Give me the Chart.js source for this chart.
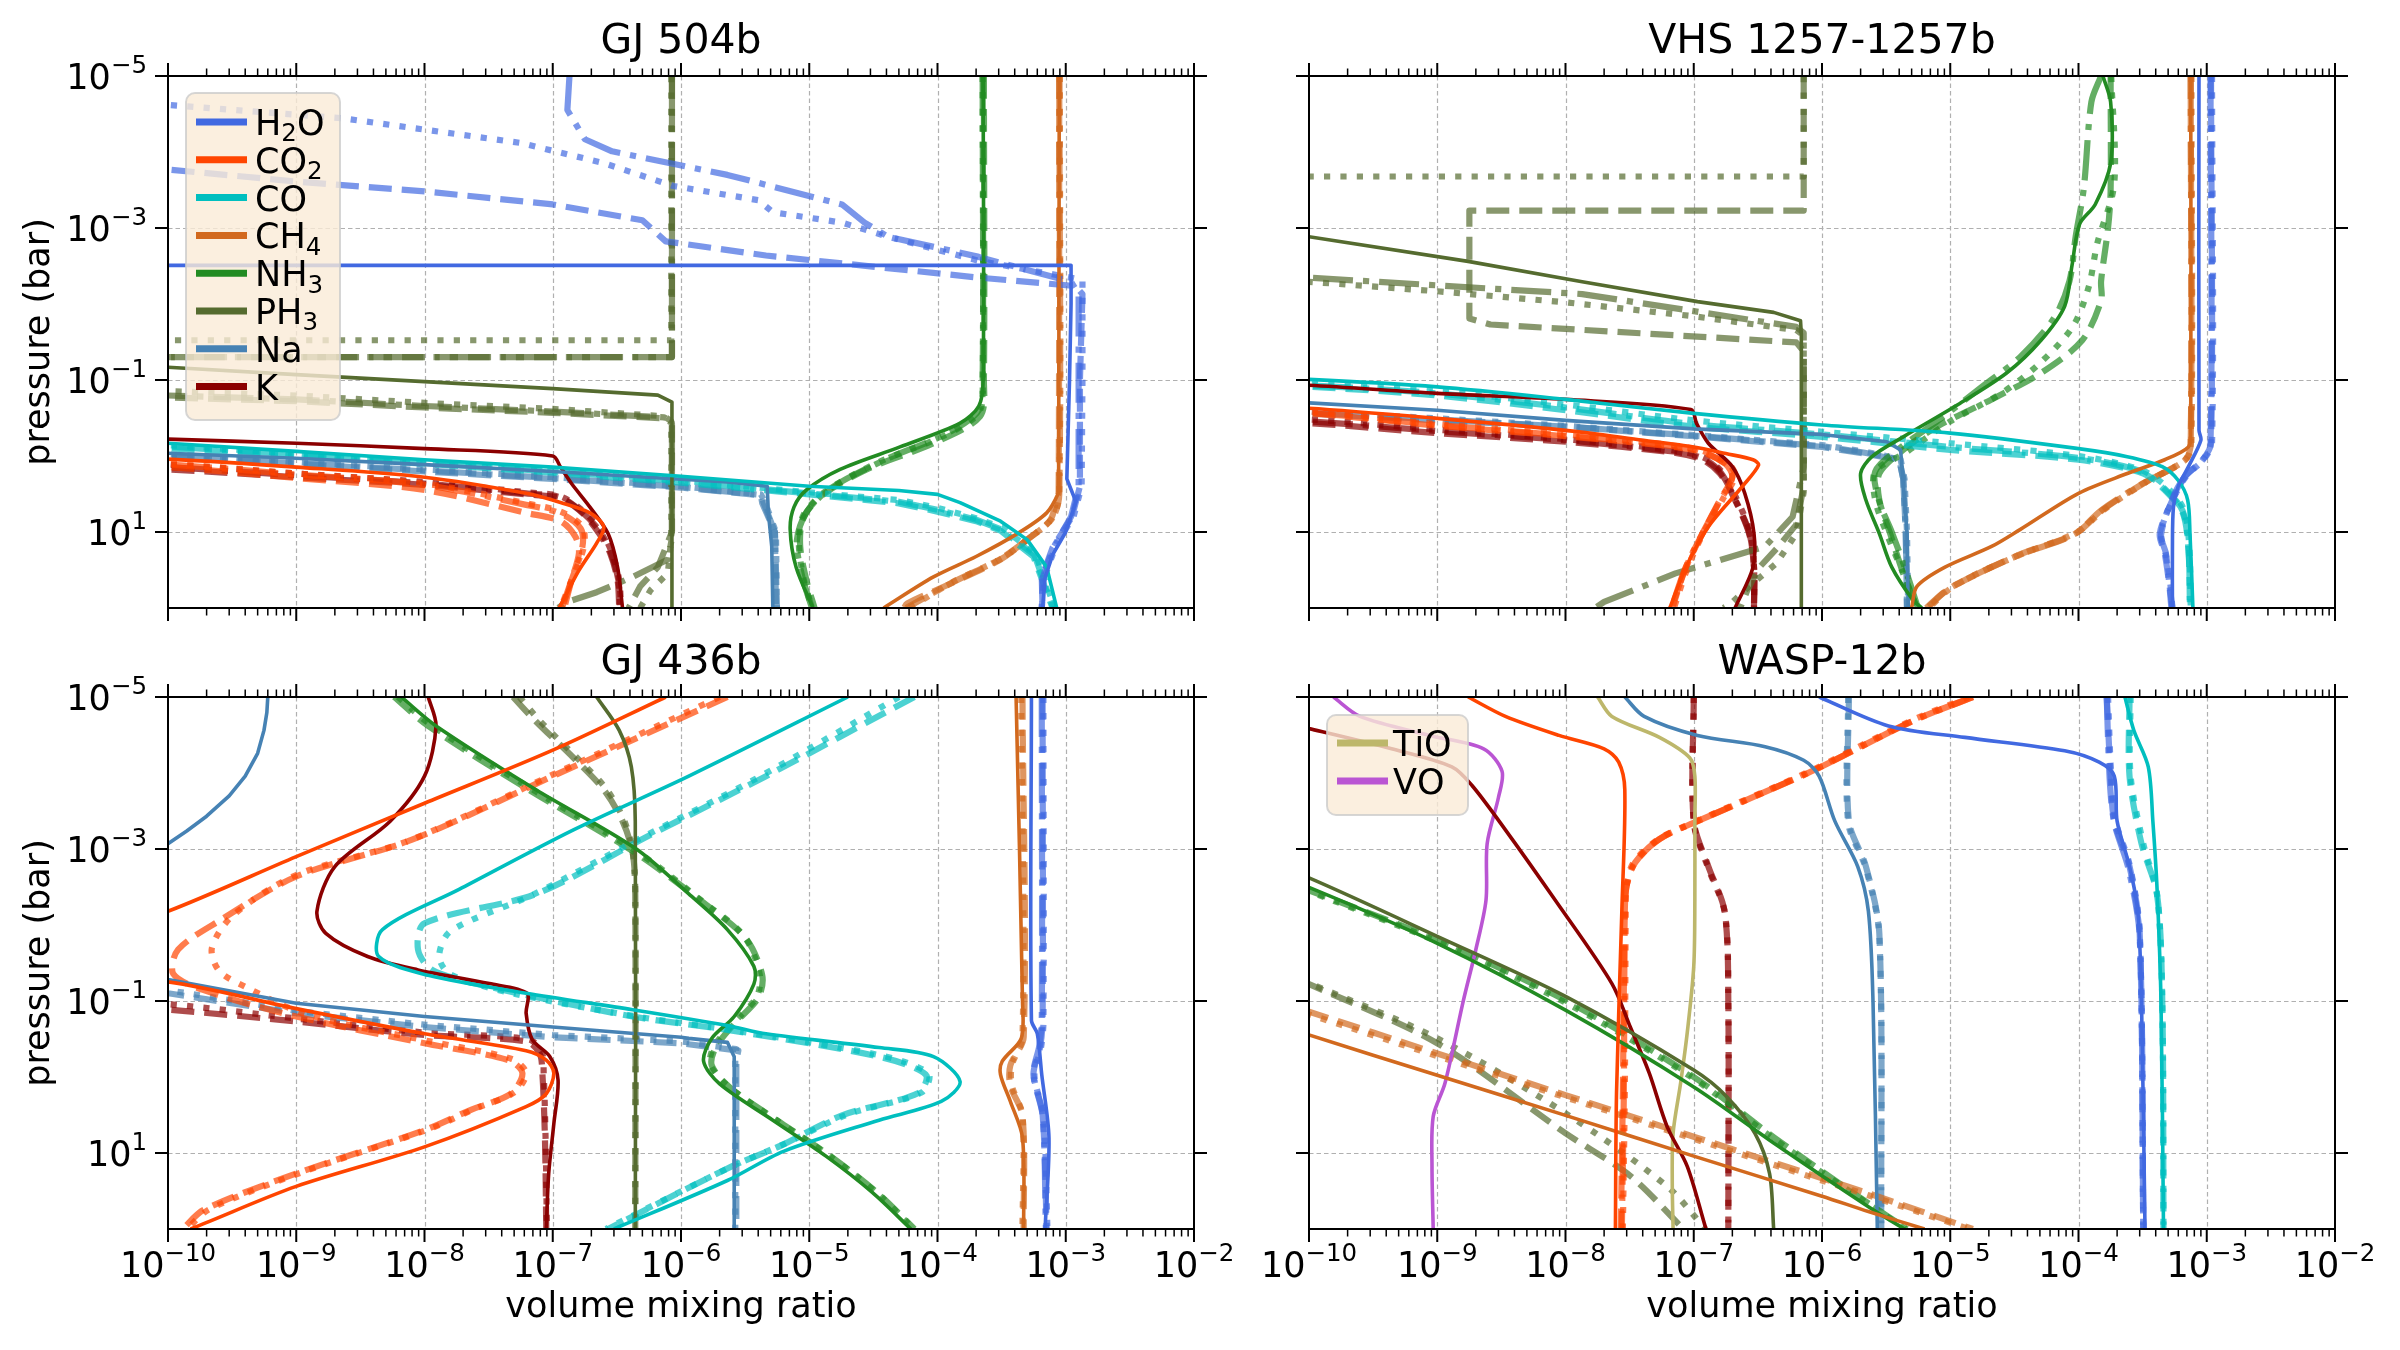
<!DOCTYPE html>
<html lang="en">
<head>
<meta charset="UTF-8">
<title>Volume mixing ratio profiles</title>
<script src="https://cdn.jsdelivr.net/npm/chart.js"></script>
<style>
  html, body { margin: 0; padding: 0; background: #fff; }
  #fig { position: relative; width: 2400px; height: 1350px; background: #fff; }
  #fig canvas { position: absolute; }
</style>
</head>
<body>
<div id="fig">
  <canvas id="c0" width="1245" height="628" style="left:0;top:0"></canvas>
  <canvas id="c1" width="1155" height="628" style="left:1245px;top:0"></canvas>
  <canvas id="c2" width="1245" height="722" style="left:0;top:628px"></canvas>
  <canvas id="c3" width="1155" height="722" style="left:1245px;top:628px"></canvas>
</div>
<script>
// axis ticks
const X_DECADES = [1e-10, 1e-9, 1e-8, 1e-7, 1e-6, 1e-5, 1e-4, 1e-3, 1e-2];
const X_EXPONENTS = [-10, -9, -8, -7, -6, -5, -4, -3, -2];
const Y_DECADES = [1e-5, 1e-3, 1e-1, 1e1];
const Y_EXPONENTS = [-5, -3, -1, 1];
const MINOR_STEPS = [2, 3, 4, 5, 6, 7, 8, 9];

// each species: [solid, dashed, dotted, dash-dot] profiles, points are [vmr, pressure in bar]

// ---- GJ 504b
const gj504_H2O = [
  [[1e-12,3.1e-3],[1.1e-3,3.1e-3],[1.1e-3,1e-2],[1.07e-3,0.1],[1.02e-3,2.0],[1.2e-3,4.0],[1.0e-3,10],[7.9e-4,20],[6.9e-4,40],[6.6e-4,100]],
  [[1e-11,1.4e-4],[1e-10,1.7e-4],[1e-9,2.45e-4],[1e-8,3.3e-4],[1e-7,4.9e-4],[5e-7,7.9e-4],[7.6e-7,1.5e-3],[4.6e-6,2.3e-3],[2.1e-4,4.5e-3],[1.19e-3,5.8e-3],[1.35e-3,7.4e-3],[1.29e-3,0.1],[1.29e-3,2.5],[1.12e-3,6.3],[7.9e-4,16],[6.5e-4,40],[6.6e-4,100]],
  [[1e-11,2.1e-5],[1e-10,2.4e-5],[2.3e-9,3.6e-5],[5.6e-8,7.6e-5],[2.5e-7,1.4e-4],[8.7e-7,2.8e-4],[4e-6,4.3e-4],[5.2e-6,6.2e-4],[1.8e-5,8.5e-4],[4.1e-5,1.3e-3],[2.1e-4,2.7e-3],[1.35e-3,4.8e-3],[1.35e-3,0.1],[1.33e-3,2.5],[1.15e-3,6.3],[8.5e-4,14],[6.8e-4,40],[6.5e-4,100]],
  [[1.35e-7,1e-5],[1.3e-7,2.8e-5],[1.78e-7,6.8e-5],[2.9e-7,9.8e-5],[2.3e-6,2.0e-4],[1.8e-5,4.9e-4],[2.7e-5,8.5e-4],[4.1e-5,1.3e-3],[2.1e-4,2.4e-3],[1.1e-3,5.1e-3],[1.26e-3,7.4e-3],[1.26e-3,0.1],[1.26e-3,2.5],[1.1e-3,6.3],[8e-4,16],[6.6e-4,40],[6.5e-4,100]]
];
const gj504_CO2 = [
  [[1e-11,0.95],[1e-10,1.1],[1e-9,1.4],[1e-8,1.9],[6.2e-8,3.1],[1.15e-7,4.1],[1.95e-7,5.6],[2.5e-7,8.5],[2.2e-7,14],[1.6e-7,32],[1.12e-7,100]],
  [[1e-11,1.2],[1e-10,1.4],[1e-9,1.95],[1e-8,2.8],[6.2e-8,5.6],[1.15e-7,7.2],[1.5e-7,11.5],[1.6e-7,19],[1.4e-7,43],[1.23e-7,100]],
  [[1e-11,1.1],[1e-10,1.26],[1e-9,1.7],[1e-8,2.3],[6.2e-8,4.2],[1.15e-7,5.4],[1.7e-7,8.5],[1.75e-7,15.5],[1.4e-7,43],[1.15e-7,100]],
  [[1e-11,1.15],[1e-10,1.3],[1e-9,1.75],[1e-8,2.4],[6.2e-8,4.4],[1.15e-7,5.7],[1.65e-7,9],[1.7e-7,16],[1.4e-7,43],[1.18e-7,100]]
];
const gj504_CO = [
  [[1e-11,0.6],[1e-10,0.68],[1e-9,0.87],[1e-8,1.12],[1e-7,1.4],[1e-6,1.85],[1e-5,2.5],[5e-5,2.85],[1e-4,3.2],[1.5e-4,4.1],[2.2e-4,5.5],[3.1e-4,7.2],[5e-4,12.6],[7.1e-4,29],[8.5e-4,100]],
  [[1e-11,0.7],[1e-10,0.79],[1e-9,1.0],[1e-8,1.26],[1e-7,1.66],[1e-6,2.24],[1e-5,3.2],[5e-5,4.2],[1e-4,5.4],[2e-4,7.2],[3.1e-4,9.6],[5.6e-4,21],[7.9e-4,100]],
  [[1e-11,0.64],[1e-10,0.72],[1e-9,0.93],[1e-8,1.2],[1e-7,1.55],[1e-6,2.1],[1e-5,3.0],[5e-5,3.8],[1e-4,4.8],[2e-4,6.6],[3.2e-4,8.8],[5.8e-4,19],[8.2e-4,100]],
  [[1e-11,0.66],[1e-10,0.75],[1e-9,0.96],[1e-8,1.23],[1e-7,1.6],[1e-6,2.15],[1e-5,3.1],[5e-5,4.0],[1e-4,5.1],[2e-4,6.9],[3.1e-4,9.2],[5.7e-4,20],[8e-4,100]]
];
const gj504_CH4 = [
  [[8.9e-4,1e-5],[8.8e-4,2.5],[8.75e-4,3.1],[7.1e-4,5.6],[4.2e-4,10.5],[2.0e-4,21],[9.3e-5,39],[3.8e-5,100]],
  [[8.9e-4,1e-5],[8.8e-4,3.0],[8.5e-4,3.6],[7.6e-4,6.9],[5e-4,12.6],[3.1e-4,23],[1.26e-4,48],[5.8e-5,87],[5.5e-5,100]],
  [[9e-4,1e-5],[8.9e-4,3.0],[7.9e-4,6.5],[5.2e-4,12],[3.2e-4,22],[1.3e-4,46],[6e-5,100]],
  [[8.9e-4,1e-5],[8.9e-4,3.2],[7.8e-4,6.7],[5.1e-4,12.3],[3.1e-4,22.5],[1.28e-4,47],[5.7e-5,100]]
];
const gj504_NH3 = [
  [[2.27e-4,1e-5],[2.27e-4,0.1],[2.1e-4,0.22],[1.5e-4,0.37],[5.1e-5,0.76],[1.74e-5,1.5],[9.5e-6,2.8],[7.6e-6,4.7],[7.1e-6,9.3],[7.9e-6,29],[1.07e-5,100]],
  [[2.3e-4,1e-5],[2.3e-4,0.1],[2.15e-4,0.3],[9.3e-5,0.68],[2.8e-5,1.5],[1.2e-5,3.5],[8.9e-6,6.9],[8.5e-6,15.5],[9.5e-6,43],[1.1e-5,100]],
  [[2.25e-4,1e-5],[2.25e-4,0.1],[2.1e-4,0.27],[1.1e-4,0.55],[3.5e-5,1.2],[1.35e-5,2.9],[9e-6,6],[8.3e-6,14],[9e-6,40],[1.05e-5,100]],
  [[2.25e-4,1e-5],[2.25e-4,0.1],[2.1e-4,0.25],[1.2e-4,0.5],[4e-5,1.1],[1.5e-5,2.6],[9.5e-6,5.5],[8e-6,13],[8.8e-6,38],[1.05e-5,100]]
];
const gj504_PH3 = [
  [[1e-11,0.058],[1e-10,0.068],[1e-9,0.085],[1e-8,0.105],[1e-7,0.13],[6.6e-7,0.158],[8.5e-7,0.195],[8.5e-7,100]],
  [[8.5e-7,1e-5],[8.5e-7,0.05],[1e-11,0.05],[1e-11,0.17],[1e-10,0.17],[1e-9,0.19],[1e-8,0.23],[1e-7,0.27],[7.4e-7,0.32],[8.5e-7,0.37],[8.5e-7,10],[6.6e-7,29],[4.8e-7,52],[3.9e-7,100]],
  [[8.4e-7,1e-5],[8.4e-7,0.03],[1e-11,0.03],[1e-11,0.14],[1e-10,0.14],[1e-9,0.16],[1e-8,0.2],[1e-7,0.24],[7.4e-7,0.3],[8.4e-7,0.35],[8.4e-7,12],[7.9e-7,35],[5.8e-7,58],[4.8e-7,100]],
  [[8.5e-7,1e-5],[8.5e-7,0.05],[1e-11,0.05],[1e-11,0.16],[1e-10,0.16],[1e-9,0.18],[1e-8,0.22],[1e-7,0.26],[7.4e-7,0.31],[8.5e-7,0.36],[8.5e-7,12],[7.9e-7,23],[4.2e-7,39],[2.2e-7,62],[1.3e-7,83],[1.1e-7,100]]
];
const gj504_Na = [
  [[1e-11,0.8],[1e-10,0.92],[1e-9,1.07],[1e-8,1.3],[1e-7,1.6],[2.3e-6,2.2],[4.7e-6,2.5],[4.8e-6,5.6],[5.1e-6,15.5],[5.2e-6,100]],
  [[1e-11,0.87],[1e-10,1.0],[1e-9,1.26],[1e-8,1.6],[1e-7,2.0],[1e-6,2.6],[4.2e-6,3.3],[4.3e-6,4.2],[5.4e-6,10],[5.6e-6,100]],
  [[1e-11,0.83],[1e-10,0.95],[1e-9,1.2],[1e-8,1.5],[1e-7,1.9],[1e-6,2.5],[4.2e-6,3.2],[4.5e-6,4.0],[5.5e-6,10],[5.6e-6,100]],
  [[1e-11,0.85],[1e-10,0.97],[1e-9,1.23],[1e-8,1.55],[1e-7,1.95],[1e-6,2.55],[4.2e-6,3.25],[4.4e-6,4.1],[5.4e-6,10],[5.5e-6,100]]
];
const gj504_K = [
  [[1e-11,0.52],[1e-10,0.6],[1e-9,0.68],[1e-8,0.8],[1e-7,1.0],[1.15e-7,1.4],[1.4e-7,2.3],[1.95e-7,4.7],[2.7e-7,10.5],[3.2e-7,29],[3.5e-7,100]],
  [[1e-11,1.3],[1e-10,1.5],[1e-9,1.9],[1e-8,2.4],[6.2e-8,3.2],[1.15e-7,3.6],[1.7e-7,5.6],[2.3e-7,10.5],[2.8e-7,19],[3.2e-7,43],[3.3e-7,100]],
  [[1e-11,1.15],[1e-10,1.3],[1e-9,1.7],[1e-8,2.2],[6.2e-8,3.0],[1.15e-7,3.4],[1.75e-7,5.4],[2.4e-7,10],[2.9e-7,19],[3.3e-7,43],[3.4e-7,100]],
  [[1e-11,1.2],[1e-10,1.4],[1e-9,1.8],[1e-8,2.3],[6.2e-8,3.1],[1.15e-7,3.5],[1.7e-7,5.5],[2.35e-7,10],[2.85e-7,19],[3.25e-7,43],[3.35e-7,100]]
];

// ---- VHS 1257-1257b
const vhs_H2O = [
  [[8.7e-4,1e-5],[8.7e-4,0.46],[9e-4,0.62],[7.2e-4,1.38],[6e-4,2.5],[5.5e-4,4.7],[5.4e-4,17],[5.4e-4,100]],
  [[1.08e-3,1e-5],[1.08e-3,0.68],[9.3e-4,1.12],[6.8e-4,1.86],[5.4e-4,3.8],[4.3e-4,10.5],[4.7e-4,19],[5.1e-4,48],[5.4e-4,100]],
  [[1.1e-3,1e-5],[1.1e-3,0.66],[9.5e-4,1.1],[7e-4,1.8],[5.5e-4,3.6],[4.4e-4,10],[4.8e-4,20],[5.2e-4,48],[5.4e-4,100]],
  [[1.07e-3,1e-5],[1.07e-3,0.7],[9.2e-4,1.15],[6.7e-4,1.9],[5.3e-4,3.9],[4.4e-4,11],[4.8e-4,19],[5.1e-4,48],[5.3e-4,100]]
];
const vhs_CO2 = [
  [[1e-11,0.2],[1e-10,0.235],[1e-9,0.32],[1e-8,0.46],[4e-8,0.62],[1e-7,0.76],[1.78e-7,0.93],[2.9e-7,1.12],[3.2e-7,1.32],[2.4e-7,2.5],[1.3e-7,8.5],[8.7e-8,29],[6.5e-8,100]],
  [[1e-11,0.24],[1e-10,0.275],[1e-9,0.4],[1e-8,0.55],[1e-7,0.83],[1.78e-7,1.26],[2e-7,1.86],[1.6e-7,3.8],[1.17e-7,10.5],[8.7e-8,29],[6.8e-8,100]],
  [[1e-11,0.23],[1e-10,0.26],[1e-9,0.38],[1e-8,0.52],[1e-7,0.8],[1.8e-7,1.2],[2.1e-7,1.8],[1.7e-7,3.6],[1.2e-7,10],[9e-8,29],[7e-8,100]],
  [[1e-11,0.235],[1e-10,0.27],[1e-9,0.39],[1e-8,0.54],[1e-7,0.82],[1.75e-7,1.25],[2e-7,1.9],[1.6e-7,3.9],[1.15e-7,11],[8.6e-8,30],[6.7e-8,100]]
];
const vhs_CO = [
  [[1e-11,0.085],[1e-10,0.098],[1e-9,0.123],[1e-8,0.18],[1e-7,0.275],[1e-6,0.39],[1e-5,0.5],[1e-4,0.8],[2.4e-4,1.02],[4.5e-4,1.38],[6e-4,2.1],[7.1e-4,3.8],[7.4e-4,10.5],[7.8e-4,100]],
  [[1e-11,0.11],[1e-10,0.123],[1e-9,0.16],[1e-8,0.25],[1e-7,0.41],[1e-6,0.56],[1e-5,0.83],[1e-4,1.12],[3.2e-4,1.7],[4.7e-4,2.8],[6.5e-4,5.6],[7.2e-4,17],[7.4e-4,100]],
  [[1e-11,0.1],[1e-10,0.11],[1e-9,0.14],[1e-8,0.21],[1e-7,0.34],[1e-6,0.48],[1e-5,0.68],[1e-4,1.0],[3e-4,1.5],[4.8e-4,2.5],[6.6e-4,5],[7.3e-4,15],[7.5e-4,100]],
  [[1e-11,0.105],[1e-10,0.118],[1e-9,0.15],[1e-8,0.23],[1e-7,0.38],[1e-6,0.52],[1e-5,0.76],[1e-4,1.06],[3.1e-4,1.6],[4.7e-4,2.7],[6.5e-4,5.3],[7.2e-4,16],[7.4e-4,100]]
];
const vhs_CH4 = [
  [[7.5e-4,1e-5],[7.5e-4,0.5],[7.2e-4,0.76],[4.7e-4,1.12],[2.4e-4,1.7],[1e-4,3.1],[3.5e-5,9.3],[2.1e-5,15.5],[9.1e-6,29],[5.5e-6,52],[5e-6,100]],
  [[7.5e-4,1e-5],[7.5e-4,0.68],[6.8e-4,1.12],[3.2e-4,2.3],[1.55e-4,5.1],[9.5e-5,10.5],[3.7e-5,19],[1.66e-5,35],[9.5e-6,58],[6.6e-6,100]],
  [[7.6e-4,1e-5],[7.6e-4,0.66],[6.9e-4,1.1],[3.3e-4,2.25],[1.6e-4,5],[9.8e-5,10],[3.9e-5,18.5],[1.7e-5,34],[9.8e-6,57],[6.8e-6,100]],
  [[7.5e-4,1e-5],[7.5e-4,0.7],[6.7e-4,1.15],[3.1e-4,2.35],[1.5e-4,5.2],[9.2e-5,10.8],[3.6e-5,19.5],[1.6e-5,36],[9.3e-6,59],[6.5e-6,100]]
];
const vhs_NH3 = [
  [[1.55e-4,1e-5],[1.78e-4,2.2e-5],[1.78e-4,1.4e-4],[1.35e-4,4.9e-4],[1.02e-4,8.9e-4],[8.9e-5,3.1e-3],[7.8e-5,1.07e-2],[5.1e-5,0.03],[2.75e-5,0.081],[1.1e-5,0.22],[4.3e-6,0.56],[2.45e-6,1.02],[2.0e-6,1.7],[2.2e-6,3.8],[2.8e-6,10.5],[3.5e-6,29],[5.1e-6,78],[6e-6,100]],
  [[1.78e-4,1e-5],[1.78e-4,3.3e-4],[1.7e-4,1e-3],[1.5e-4,5e-3],[1.5e-4,9e-3],[1.07e-4,0.03],[5.1e-5,0.081],[2.1e-5,0.18],[7.9e-6,0.41],[4.3e-6,0.83],[2.8e-6,1.7],[2.8e-6,3.8],[3.4e-6,10.5],[4.3e-6,35],[5.5e-6,100]],
  [[1.8e-4,1e-5],[1.9e-4,2.6e-4],[1.4e-4,1.6e-3],[1.2e-4,6e-3],[9e-5,0.02],[5e-5,0.06],[2.5e-5,0.15],[1e-5,0.35],[4.5e-6,0.9],[2.6e-6,1.6],[2.6e-6,3.8],[3.2e-6,10.5],[4.2e-6,32],[5.5e-6,100]],
  [[1.5e-4,1e-5],[1.26e-4,2.2e-5],[1.1e-4,3e-4],[9.5e-5,1.3e-3],[8.5e-5,5e-3],[6.5e-5,0.015],[3.5e-5,0.05],[1.8e-5,0.12],[7.9e-6,0.35],[4e-6,0.8],[2.6e-6,1.6],[2.8e-6,4],[3.5e-6,10],[4.5e-6,32],[5.6e-6,100]]
];
const vhs_PH3 = [
  [[1e-11,1e-3],[1e-10,1.3e-3],[1.74e-9,2.75e-3],[1.35e-8,5.1e-3],[1.07e-7,9.3e-3],[4.2e-7,1.29e-2],[6.8e-7,1.66e-2],[6.9e-7,0.025],[6.9e-7,100]],
  [[7.2e-7,1e-5],[7.2e-7,5.9e-4],[1.78e-9,5.9e-4],[1.78e-9,0.0155],[2.6e-9,0.0186],[6.3e-7,0.032],[7.2e-7,0.042],[7.2e-7,2.5],[6.3e-7,8],[4.5e-7,16],[3.2e-7,30],[2.6e-7,60],[2.3e-7,100]],
  [[7.2e-7,1e-5],[7.2e-7,2.1e-4],[1e-11,2.1e-4],[1e-11,4.6e-3],[1e-10,5.1e-3],[1e-9,6.8e-3],[1e-8,9.5e-3],[1e-7,0.0145],[6.3e-7,0.022],[7.2e-7,0.026],[7.2e-7,3],[6.3e-7,10.5],[4.4e-7,26],[2.7e-7,52],[1.9e-7,91],[1.7e-7,100]],
  [[1e-11,3.8e-3],[1e-10,4.5e-3],[1.35e-8,7.4e-3],[6.3e-7,0.02],[7.2e-7,0.024],[7.2e-7,1.4],[5.9e-7,6.3],[3.6e-7,15.5],[7.2e-8,35],[2e-8,83],[1.7e-8,100]]
];
const vhs_Na = [
  [[1e-11,0.17],[1e-10,0.2],[1e-9,0.25],[1e-8,0.34],[1e-7,0.44],[1e-6,0.52],[3.2e-6,0.65],[4.1e-6,0.83],[4.3e-6,2.3],[4.6e-6,10.5],[4.7e-6,100]],
  [[1e-11,0.24],[1e-10,0.275],[1e-9,0.34],[1e-8,0.41],[1e-7,0.55],[1e-6,0.76],[2e-6,0.91],[4e-6,1.12],[4.3e-6,2.0],[4.5e-6,10],[4.6e-6,100]],
  [[1e-11,0.23],[1e-10,0.26],[1e-9,0.32],[1e-8,0.4],[1e-7,0.53],[1e-6,0.72],[2.2e-6,0.88],[4.1e-6,1.1],[4.4e-6,2.0],[4.6e-6,10],[4.7e-6,100]],
  [[1e-11,0.235],[1e-10,0.27],[1e-9,0.33],[1e-8,0.41],[1e-7,0.54],[1e-6,0.74],[2.1e-6,0.9],[4e-6,1.1],[4.3e-6,2.0],[4.5e-6,10],[4.6e-6,100]]
];
const vhs_K = [
  [[1e-11,0.1],[1e-10,0.117],[1e-9,0.15],[1e-8,0.18],[9.5e-8,0.245],[1.05e-7,0.37],[1.3e-7,0.68],[2e-7,1.38],[2.5e-7,3.1],[2.95e-7,10.5],[2.9e-7,29],[2.1e-7,100]],
  [[1e-11,0.32],[1e-10,0.37],[1e-9,0.5],[1e-8,0.65],[7.2e-8,0.91],[1.17e-7,1.12],[1.6e-7,1.7],[2.1e-7,3.8],[2.7e-7,10.5],[2.95e-7,29],[2.95e-7,100]],
  [[1e-11,0.29],[1e-10,0.33],[1e-9,0.45],[1e-8,0.6],[7.2e-8,0.85],[1.2e-7,1.05],[1.65e-7,1.6],[2.15e-7,3.6],[2.75e-7,10],[2.95e-7,29],[2.95e-7,100]],
  [[1e-11,0.3],[1e-10,0.35],[1e-9,0.47],[1e-8,0.62],[7.2e-8,0.88],[1.18e-7,1.08],[1.62e-7,1.65],[2.1e-7,3.7],[2.7e-7,10],[2.95e-7,29],[2.95e-7,100]]
];

// ---- GJ 436b
const gj436_H2O = [
  [[5.4e-4,1e-5],[5.4e-4,0.18],[6e-4,0.27],[6.5e-4,0.93],[7.4e-4,6.3],[6.9e-4,100]],
  [[6.6e-4,1e-5],[6.6e-4,0.18],[6.3e-4,0.41],[5.6e-4,0.93],[6.6e-4,3.2],[7.1e-4,100]],
  [[6.7e-4,1e-5],[6.7e-4,0.19],[6.4e-4,0.42],[5.7e-4,0.95],[6.7e-4,3.3],[7.2e-4,100]],
  [[6.5e-4,1e-5],[6.5e-4,0.18],[6.2e-4,0.4],[5.6e-4,0.9],[6.6e-4,3.1],[7e-4,100]]
];
const gj436_CO2 = [
  [[7.6e-7,1e-5],[1e-7,5e-5],[1e-8,2.5e-4],[1e-9,1.26e-3],[1e-10,6.6e-3],[1e-11,0.025],[1e-11,0.045],[1e-10,0.056],[1e-9,0.126],[1e-8,0.27],[6.2e-8,0.45],[8.9e-8,0.6],[1.02e-7,0.89],[8.9e-8,1.66],[6.2e-8,2.45],[1e-8,8.3],[1e-9,27.5],[1.9e-10,85],[1.5e-10,100]],
  [[2.3e-6,1e-5],[1e-7,1.1e-4],[7.9e-9,7.6e-4],[1e-9,2.3e-3],[2.6e-10,8.5e-3],[1.2e-10,0.021],[1.1e-10,0.044],[1.9e-10,0.072],[1e-9,0.16],[1e-8,0.36],[4.5e-8,0.6],[5.8e-8,0.89],[4.7e-8,1.66],[2.3e-8,2.7],[1e-8,5],[1e-9,18.6],[1.9e-10,56],[1.3e-10,100]],
  [[2.0e-6,1e-5],[1e-7,1.05e-4],[7.5e-9,7.8e-4],[1e-9,2.2e-3],[3.2e-10,7.5e-3],[2.2e-10,0.02],[2.5e-10,0.04],[4e-10,0.065],[1.2e-9,0.15],[1.1e-8,0.34],[4.8e-8,0.58],[6.2e-8,0.89],[5e-8,1.6],[2.5e-8,2.6],[1.1e-8,4.8],[1.1e-9,18],[2.1e-10,55],[1.4e-10,100]],
  []
];
const gj436_CO = [
  [[2.0e-5,1e-5],[1.15e-6,1.1e-4],[1.45e-7,5.6e-4],[1.86e-8,3.4e-3],[4.7e-9,0.0115],[4.4e-9,0.026],[1.07e-8,0.046],[6.2e-8,0.079],[4.2e-7,0.13],[2.3e-6,0.21],[4.6e-6,0.27],[3.5e-5,0.41],[9.3e-5,0.54],[1.5e-4,1.15],[1.07e-4,2.1],[3.5e-5,3.7],[6.3e-6,9.5],[2.3e-6,23],[3e-7,100]],
  [[6.6e-5,1e-5],[4.6e-6,1.1e-4],[5.8e-7,6.5e-4],[7.4e-8,3.9e-3],[1e-8,9.5e-3],[8.9e-9,0.021],[1.15e-8,0.039],[3.2e-8,0.065],[4.2e-7,0.16],[2.3e-6,0.24],[3.5e-5,0.54],[8.1e-5,0.93],[7.1e-5,1.62],[1.8e-5,3.2],[6e-6,8],[2.3e-6,16],[2.7e-7,100]],
  [[5e-5,1e-5],[3.8e-6,1.2e-4],[5e-7,7e-4],[7e-8,4e-3],[1.6e-8,0.012],[1.3e-8,0.026],[1.6e-8,0.045],[5e-8,0.08],[4.5e-7,0.16],[2.4e-6,0.24],[3.6e-5,0.52],[8.5e-5,0.9],[7.5e-5,1.6],[2e-5,3.1],[6.5e-6,7.5],[2.5e-6,15],[2.6e-7,100]],
  []
];
const gj436_CH4 = [
  [[4.1e-4,1e-5],[4.6e-4,0.1],[4.5e-4,0.31],[3.2e-4,0.62],[3.1e-4,0.93],[3.7e-4,2.1],[4.6e-4,6.3],[4.7e-4,100]],
  [[4.6e-4,1e-5],[4.7e-4,0.3],[3.7e-4,0.7],[3.7e-4,1.3],[4.6e-4,3.2],[4.7e-4,100]],
  [[4.5e-4,1e-5],[4.6e-4,0.3],[3.8e-4,0.7],[3.8e-4,1.3],[4.6e-4,3.2],[4.6e-4,100]],
  []
];
const gj436_NH3 = [
  [[6.6e-9,1e-5],[1.23e-8,2.4e-5],[7.4e-8,1.66e-4],[4.4e-7,9.8e-4],[1.15e-6,3.9e-3],[2.3e-6,0.0115],[3.7e-6,0.035],[3.7e-6,0.06],[2.6e-6,0.16],[1.74e-6,0.31],[1.5e-6,0.62],[2.0e-6,1.23],[5.2e-6,3.7],[1.35e-5,11],[3.1e-5,33],[6.2e-5,100]],
  [[5.8e-9,1e-5],[1.07e-8,2.4e-5],[6.5e-8,1.66e-4],[4.4e-7,1.12e-3],[1.5e-6,5.1e-3],[3.2e-6,0.015],[4.3e-6,0.046],[4e-6,0.091],[2.6e-6,0.2],[1.86e-6,0.41],[1.74e-6,0.71],[2.45e-6,1.41],[6e-6,4],[1.55e-5,11.8],[3.5e-5,35],[6.6e-5,100]],
  [[6.2e-9,1e-5],[1.15e-8,2.4e-5],[7e-8,1.66e-4],[4.6e-7,1.1e-3],[1.45e-6,4.8e-3],[3.1e-6,0.014],[4.1e-6,0.044],[3.9e-6,0.088],[2.6e-6,0.19],[1.8e-6,0.4],[1.7e-6,0.7],[2.4e-6,1.38],[5.8e-6,3.9],[1.5e-5,11.5],[3.4e-5,34],[6.5e-5,100]],
  []
];
const gj436_PH3 = [
  [[2.2e-7,1e-5],[3.3e-7,2.75e-5],[4.1e-7,8.3e-5],[4.4e-7,4.3e-4],[4.4e-7,100]],
  [[4.9e-8,1e-5],[7.4e-8,2.1e-5],[1.45e-7,6.3e-5],[2.5e-7,1.66e-4],[3.5e-7,4.3e-4],[4.2e-7,1.12e-3],[4.4e-7,4e-3],[4.4e-7,100]],
  [[5.5e-8,1e-5],[8e-8,2.1e-5],[1.5e-7,6e-5],[2.6e-7,1.6e-4],[3.6e-7,4.2e-4],[4.2e-7,1.1e-3],[4.4e-7,4e-3],[4.4e-7,100]],
  []
];
const gj436_Na = [
  [[6e-10,1e-5],[5.9e-10,1.6e-5],[5.6e-10,2.75e-5],[5e-10,5.5e-5],[4e-10,1.1e-4],[3e-10,2e-4],[2e-10,3.7e-4],[1.4e-10,5.8e-4],[1e-10,8.5e-4],[5e-11,1.5e-3],[5e-11,0.04],[1e-10,0.052],[1e-9,0.107],[1e-8,0.16],[1e-7,0.22],[1e-6,0.3],[1.15e-6,0.31],[2.3e-6,0.35],[2.6e-6,0.54],[2.6e-6,6.3],[2.6e-6,100]],
  [[5e-11,0.06],[1e-10,0.079],[1e-9,0.145],[1e-8,0.22],[1e-7,0.3],[1e-6,0.36],[2.8e-6,0.45],[2.7e-6,0.6],[2.7e-6,100]],
  [[5e-11,0.055],[1e-10,0.072],[1e-9,0.135],[1e-8,0.205],[1e-7,0.28],[1e-6,0.34],[2.7e-6,0.43],[2.65e-6,0.6],[2.65e-6,100]],
  []
];
const gj436_K = [
  [[1.07e-8,1e-5],[1.23e-8,2.4e-5],[1e-8,1.1e-4],[5.4e-9,4.3e-4],[2e-9,1.7e-3],[1.45e-9,6.6e-3],[1.7e-9,0.0129],[3.6e-9,0.026],[8.9e-9,0.039],[3.2e-8,0.059],[6.3e-8,0.079],[6.2e-8,0.145],[6.9e-8,0.32],[9.5e-8,0.54],[1.1e-7,1.1],[1.02e-7,4.1],[9.3e-8,18.6],[8.9e-8,100]],
  [[1e-11,0.1],[1e-10,0.13],[1e-9,0.186],[1e-8,0.28],[6.2e-8,0.34],[7.9e-8,0.49],[8.3e-8,0.89],[8.7e-8,6.8],[8.9e-8,100]],
  [[1e-11,0.09],[1e-10,0.11],[1e-9,0.17],[1e-8,0.26],[6.5e-8,0.32],[8.2e-8,0.47],[8.5e-8,0.9],[8.8e-8,7],[9e-8,100]],
  []
];

// ---- WASP-12b
const wasp12_H2O = [
  [[9.5e-7,1e-5],[3.3e-6,2.4e-5],[1.3e-5,3.4e-5],[7.8e-5,5.1e-5],[1.45e-4,7.2e-5],[1.9e-4,1.1e-4],[2e-4,4.3e-4],[2.5e-4,1.7e-3],[2.9e-4,6.6e-3],[3.1e-4,0.105],[3.3e-4,100]],
  [[1.66e-4,1e-5],[1.78e-4,1.1e-4],[1.9e-4,4.3e-4],[2.5e-4,1.7e-3],[3e-4,0.013],[3.2e-4,100]],
  [[1.7e-4,1e-5],[1.8e-4,1.1e-4],[1.95e-4,4.3e-4],[2.5e-4,1.6e-3],[3e-4,0.012],[3.2e-4,100]],
  [[1.66e-4,1e-5],[1.75e-4,1.2e-4],[1.9e-4,4.5e-4],[2.45e-4,1.8e-3],[3e-4,0.014],[3.2e-4,100]]
];
const wasp12_CO2 = [
  [[1.74e-9,1e-5],[3.4e-9,1.8e-5],[8.9e-9,3.2e-5],[2e-8,4.8e-5],[2.6e-8,7.2e-5],[2.9e-8,1.66e-4],[2.75e-8,6.6e-3],[2.5e-8,1.6],[2.45e-8,100]],
  [[1.5e-5,1e-5],[5e-6,2.1e-5],[8.3e-7,9.5e-5],[1.07e-7,4.3e-4],[5.4e-8,7.4e-4],[3.5e-8,1.5e-3],[3e-8,3e-3],[2.9e-8,6.6e-3],[2.8e-8,1.6],[2.7e-8,100]],
  [[1.4e-5,1e-5],[4.8e-6,2.1e-5],[8e-7,9.5e-5],[1.05e-7,4.3e-4],[5.3e-8,7.4e-4],[3.4e-8,1.5e-3],[3e-8,3e-3],[2.95e-8,6.6e-3],[2.9e-8,1.6],[2.8e-8,100]],
  [[1.5e-5,1e-5],[5e-6,2.1e-5],[8.3e-7,9.5e-5],[1.07e-7,4.3e-4],[5.4e-8,7.4e-4],[3.5e-8,1.5e-3],[3e-8,3e-3],[2.9e-8,6.6e-3],[2.85e-8,1.6],[2.75e-8,100]]
];
const wasp12_CO = [
  [[2.3e-4,1e-5],[2.7e-4,2.75e-5],[3.5e-4,8.3e-5],[3.8e-4,4.3e-4],[4.1e-4,3.4e-3],[4.4e-4,0.105],[4.6e-4,100]],
  [[2.5e-4,1e-5],[2.5e-4,1.1e-4],[3.1e-4,8.5e-4],[4.1e-4,4e-3],[4.5e-4,0.1],[4.6e-4,100]],
  [[2.55e-4,1e-5],[2.55e-4,1.1e-4],[3.2e-4,8.5e-4],[4.1e-4,4e-3],[4.5e-4,0.1],[4.6e-4,100]],
  []
];
const wasp12_CH4 = [
  [[1e-11,0.08],[1e-10,0.28],[1e-9,0.95],[1e-8,3.2],[1e-7,11],[1e-6,37],[2.3e-6,59],[6.3e-6,100]],
  [[1e-11,0.039],[1e-10,0.138],[1e-9,0.49],[1e-8,1.73],[1e-7,6.1],[1e-6,21.5],[2.3e-6,34],[1.5e-5,100]],
  [[1e-11,0.042],[1e-10,0.15],[1e-9,0.53],[1e-8,1.85],[1e-7,6.5],[1e-6,23],[2.3e-6,36],[1.4e-5,100]],
  []
];
const wasp12_NH3 = [
  [[1e-11,7e-4],[1e-10,3.2e-3],[1e-9,0.0174],[1e-8,0.132],[1e-7,1.35],[4.2e-7,7.4],[2.3e-6,51],[4.4e-6,100]],
  [[1e-11,8e-4],[1e-10,3.5e-3],[1e-9,0.0158],[1e-8,0.098],[1e-7,1.0],[4.2e-7,6.2],[2.3e-6,46],[4.6e-6,100]],
  [[1e-11,8e-4],[1e-10,3.6e-3],[1e-9,0.0165],[1e-8,0.105],[1e-7,1.05],[4.2e-7,6.5],[2.3e-6,47],[4.5e-6,100]],
  []
];
const wasp12_PH3 = [
  [[1e-11,5e-4],[1e-10,2.4e-3],[1e-9,0.0141],[1e-8,0.087],[1e-7,0.81],[1.8e-7,1.8],[3e-7,5.5],[3.9e-7,18.6],[4.2e-7,100]],
  [[1e-11,0.011],[1e-10,0.06],[1e-9,0.36],[1e-8,5.5],[3.2e-8,20],[8.3e-8,100]],
  [[1e-11,0.011],[1e-10,0.058],[1e-9,0.31],[1e-8,3.0],[6.2e-8,27.5],[1.23e-7,100]],
  []
];
const wasp12_Na = [
  [[2.9e-8,1e-5],[4.1e-8,1.8e-5],[1.07e-7,3.2e-5],[3.6e-7,4.5e-5],[7.2e-7,6.8e-5],[9.5e-7,1.1e-4],[1.26e-6,4.3e-4],[1.9e-6,1.7e-3],[2.3e-6,6.6e-3],[2.5e-6,0.105],[2.7e-6,100]],
  [[1.62e-6,1e-5],[1.62e-6,4.3e-4],[2.2e-6,1.7e-3],[2.8e-6,0.013],[2.9e-6,100]],
  [[1.6e-6,1e-5],[1.6e-6,4.5e-4],[2.2e-6,1.8e-3],[2.8e-6,0.014],[2.9e-6,100]],
  []
];
const wasp12_K = [
  [[5e-11,2e-5],[1e-10,2.6e-5],[4.4e-10,4.8e-5],[1.3e-9,8.3e-5],[1.86e-9,1.45e-4],[3.4e-9,5.6e-4],[8.3e-9,4.7e-3],[2.3e-8,0.059],[3.2e-8,0.22],[4.5e-8,0.89],[6.2e-8,4.5],[8.9e-8,15],[1.23e-7,93],[1.25e-7,100]],
  [[1e-7,1e-5],[1e-7,4.3e-4],[1.3e-7,1.7e-3],[1.74e-7,6.6e-3],[1.86e-7,0.105],[1.86e-7,100]],
  [[1e-7,1e-5],[1e-7,4.5e-4],[1.3e-7,1.8e-3],[1.75e-7,7e-3],[1.86e-7,0.11],[1.86e-7,100]],
  []
];
const wasp12_TiO = [
  [[1.78e-8,1e-5],[2.3e-8,1.8e-5],[5.4e-8,3.4e-5],[9.3e-8,6.3e-5],[1.02e-7,1.1e-4],[1.02e-7,4.3e-4],[1.02e-7,4.7e-3],[1e-7,0.035],[8.9e-8,0.26],[7.9e-8,1.2],[6.9e-8,5.5],[6.8e-8,25],[6.9e-8,100]],
  [], [], []
];
const wasp12_VO = [
  [[1.55e-10,1e-5],[2.5e-10,1.8e-5],[8.7e-10,3.2e-5],[2.3e-9,4.8e-5],[3.2e-9,9.5e-5],[3e-9,2.1e-4],[2.45e-9,8.5e-4],[2.4e-9,4.7e-3],[2e-9,0.021],[1.6e-9,0.098],[1.15e-9,1.2],[9.3e-10,3.3],[9.1e-10,15],[9.3e-10,100]],
  [], [], []
];

const COLORS = {
  H2O: [65, 105, 225], CO2: [255, 69, 0], CO: [0, 191, 191], CH4: [210, 105, 30],
  NH3: [34, 139, 34], PH3: [85, 107, 47], Na: [70, 130, 180], K: [139, 0, 0],
  TiO: [189, 183, 107], VO: [186, 85, 211]
};
const LINE_WIDTH = [3.6, 6.2, 6.2, 6.2];
const LINE_DASH = [[], [23, 10], [6.2, 10.2], [40, 10, 6.2, 10]];
const FONT = '"DejaVu Sans", Verdana, sans-serif';

const rgba = (c, a) => `rgba(${c[0]},${c[1]},${c[2]},${a})`;

function powLabel(ctx, exp, x, y, align, size) {
  const base = '10';
  const sup = (exp < 0 ? '\u2212' : '') + Math.abs(exp);
  ctx.font = `${size}px ${FONT}`;
  const wb = ctx.measureText(base).width;
  ctx.font = `${size * 0.7}px ${FONT}`;
  const ws = ctx.measureText(sup).width;
  let x0 = x;
  if (align === 'center') x0 = x - (wb + ws) / 2;
  if (align === 'right') x0 = x - wb - ws;
  ctx.textAlign = 'left';
  ctx.textBaseline = 'alphabetic';
  ctx.font = `${size}px ${FONT}`;
  ctx.fillText(base, x0, y);
  ctx.font = `${size * 0.7}px ${FONT}`;
  ctx.fillText(sup, x0 + wb, y - size * 0.45);
}

// digits are written as subscripts (H2O, CO2 ...)
function chemLabel(ctx, text, x, y, size) {
  let cx = x;
  ctx.textAlign = 'left';
  ctx.textBaseline = 'alphabetic';
  for (const ch of text) {
    const sub = /\d/.test(ch);
    ctx.font = `${sub ? size * 0.7 : size}px ${FONT}`;
    ctx.fillText(ch, cx, sub ? y + size * 0.18 : y);
    cx += ctx.measureText(ch).width;
  }
}

function tick(ctx, x1, y1, x2, y2, w) {
  ctx.lineWidth = w;
  ctx.beginPath();
  ctx.moveTo(x1, y1);
  ctx.lineTo(x2, y2);
  ctx.stroke();
}

const gridPlugin = {
  id: 'gridLines',
  beforeDatasetsDraw(chart) {
    const { ctx, chartArea: a, scales: { x, y } } = chart;
    ctx.save();
    ctx.strokeStyle = '#b0b0b0';
    ctx.setLineDash([4.5, 3]);
    X_DECADES.slice(1, -1).forEach(v => {
      const px = Math.round(x.getPixelForValue(v)) + 0.5;
      tick(ctx, px, a.top, px, a.bottom, 1.2);
    });
    Y_DECADES.slice(1).forEach(v => {
      const py = Math.round(y.getPixelForValue(v)) + 0.5;
      tick(ctx, a.left, py, a.right, py, 1.2);
    });
    ctx.restore();
  }
};

const decoPlugin = {
  id: 'deco',
  afterDraw(chart, args, o) {
    const { ctx, chartArea: a, scales: { x, y } } = chart;
    ctx.save();
    ctx.strokeStyle = '#000';
    ctx.fillStyle = '#000';
    ctx.setLineDash([]);

    // legend box
    if (o.legend) {
      const lg = o.legend;
      const x0 = a.left + lg.dx, y0 = a.top + lg.dy;
      ctx.beginPath();
      ctx.roundRect(x0, y0, lg.w, lg.h, 9);
      ctx.fillStyle = 'rgba(250,235,215,0.8)';
      ctx.fill();
      ctx.lineWidth = 2;
      ctx.strokeStyle = 'rgba(204,204,204,0.8)';
      ctx.stroke();
      lg.names.forEach((name, i) => {
        const cy = y0 + lg.first + i * lg.rowH;
        ctx.strokeStyle = rgba(COLORS[name], 1);
        ctx.lineCap = 'butt';
        tick(ctx, x0 + 10, cy, x0 + 61, cy, 7);
        ctx.fillStyle = '#000';
        chemLabel(ctx, name, x0 + lg.textDx, cy + 13, 35);
      });
      ctx.strokeStyle = '#000';
    }

    // frame
    ctx.lineWidth = 2;
    ctx.strokeRect(a.left, a.top, a.right - a.left, a.bottom - a.top);

    // x ticks (outward, both sides)
    X_DECADES.forEach((v, i) => {
      const px = x.getPixelForValue(v);
      tick(ctx, px, a.bottom, px, a.bottom + 13, 2);
      tick(ctx, px, a.top, px, a.top - 13, 2);
      if (i < X_DECADES.length - 1) {
        MINOR_STEPS.forEach(m => {
          const q = x.getPixelForValue(m * v);
          tick(ctx, q, a.bottom, q, a.bottom + 7.5, 1.5);
          tick(ctx, q, a.top, q, a.top - 7.5, 1.5);
        });
      }
      if (o.xLabels) powLabel(ctx, X_EXPONENTS[i], px, a.bottom + 48, 'center', 35);
    });
    // y ticks
    Y_DECADES.forEach((v, i) => {
      const py = y.getPixelForValue(v);
      tick(ctx, a.left, py, a.left - 13, py, 2);
      tick(ctx, a.right, py, a.right + 13, py, 2);
      if (o.yLabels) powLabel(ctx, Y_EXPONENTS[i], a.left - 21, py + 13, 'right', 35);
    });

    // title and axis labels
    const cx = (a.left + a.right) / 2;
    ctx.textAlign = 'center';
    ctx.textBaseline = 'alphabetic';
    ctx.font = `41px ${FONT}`;
    ctx.fillText(o.title, cx, a.top - 23);
    ctx.font = `35px ${FONT}`;
    if (o.xLabels) ctx.fillText('volume mixing ratio', cx, a.bottom + 88);
    if (o.yLabels) {
      ctx.save();
      ctx.translate(40, (a.top + a.bottom) / 2);
      ctx.rotate(-Math.PI / 2);
      ctx.textBaseline = 'middle';
      ctx.fillText('pressure (bar)', 0, 0);
      ctx.restore();
    }
    ctx.restore();
  }
};

const PANELS = [
  { id: 'c0', title: 'GJ 504b', pad: { left: 168, right: 51, top: 76, bottom: 20 }, xLabels: false, yLabels: true,
    species: [['H2O', gj504_H2O], ['CO2', gj504_CO2], ['CO', gj504_CO], ['CH4', gj504_CH4], ['NH3', gj504_NH3], ['PH3', gj504_PH3], ['Na', gj504_Na], ['K', gj504_K]],
    smooth: ['CO2', 'CH4', 'NH3', 'K'],
    legend: { names: ['H2O', 'CO2', 'CO', 'CH4', 'NH3', 'PH3', 'Na', 'K'], dx: 18, dy: 17, w: 154, h: 327, first: 29, rowH: 37.8, textDx: 69 } },
  { id: 'c1', title: 'VHS 1257-1257b', pad: { left: 64, right: 65, top: 76, bottom: 20 }, xLabels: false, yLabels: false,
    species: [['H2O', vhs_H2O], ['CO2', vhs_CO2], ['CO', vhs_CO], ['CH4', vhs_CH4], ['NH3', vhs_NH3], ['PH3', vhs_PH3], ['Na', vhs_Na], ['K', vhs_K]],
    smooth: ['H2O', 'CO2', 'CO', 'CH4', 'NH3', 'K'] },
  { id: 'c2', title: 'GJ 436b', pad: { left: 168, right: 51, top: 69, bottom: 121 }, xLabels: true, yLabels: true,
    species: [['H2O', gj436_H2O], ['CO2', gj436_CO2], ['CO', gj436_CO], ['CH4', gj436_CH4], ['NH3', gj436_NH3], ['PH3', gj436_PH3], ['Na', gj436_Na], ['K', gj436_K]],
    smooth: ['H2O', 'CO2', 'CO', 'CH4', 'NH3', 'PH3', 'K'] },
  { id: 'c3', title: 'WASP-12b', pad: { left: 64, right: 65, top: 69, bottom: 121 }, xLabels: true, yLabels: false,
    species: [['H2O', wasp12_H2O], ['CO2', wasp12_CO2], ['CO', wasp12_CO], ['CH4', wasp12_CH4], ['NH3', wasp12_NH3], ['PH3', wasp12_PH3], ['Na', wasp12_Na], ['K', wasp12_K], ['TiO', wasp12_TiO], ['VO', wasp12_VO]],
    smooth: ['H2O', 'CO2', 'CO', 'CH4', 'NH3', 'PH3', 'Na', 'K', 'TiO', 'VO'],
    legend: { names: ['TiO', 'VO'], dx: 18, dy: 18, w: 141, h: 100, first: 28, rowH: 38, textDx: 66 } }
];

function makeDatasets(species, smooth) {
  const sets = [];
  species.forEach(([name, curves]) => {
    curves.forEach((pts, k) => {
      if (!pts.length) return;
      sets.push({
        label: name,
        data: pts.map(([v, p]) => ({ x: v, y: p })),
        showLine: true,
        pointRadius: 0,
        borderColor: rgba(COLORS[name], k ? 0.7 : 1),
        borderWidth: LINE_WIDTH[k],
        borderDash: LINE_DASH[k],
        borderCapStyle: 'butt',
        borderJoinStyle: 'round',
        tension: smooth.includes(name) ? 0.3 : 0,
        clip: 0,
        order: k ? 1 : 0
      });
    });
  });
  return sets;
}

PANELS.forEach(p => {
  new Chart(document.getElementById(p.id), {
    type: 'scatter',
    data: { datasets: makeDatasets(p.species, p.smooth) },
    options: {
      responsive: false,
      animation: false,
      devicePixelRatio: 1,
      layout: { padding: p.pad },
      elements: { line: { capBezierPoints: false } },
      scales: {
        x: { type: 'logarithmic', min: 1e-10, max: 1e-2, display: false },
        y: { type: 'logarithmic', min: 1e-5, max: 100, reverse: true, display: false }
      },
      plugins: {
        legend: { display: false },
        tooltip: { enabled: false },
        deco: { title: p.title, xLabels: p.xLabels, yLabels: p.yLabels, legend: p.legend }
      }
    },
    plugins: [gridPlugin, decoPlugin]
  });
});
</script>
</body>
</html>
